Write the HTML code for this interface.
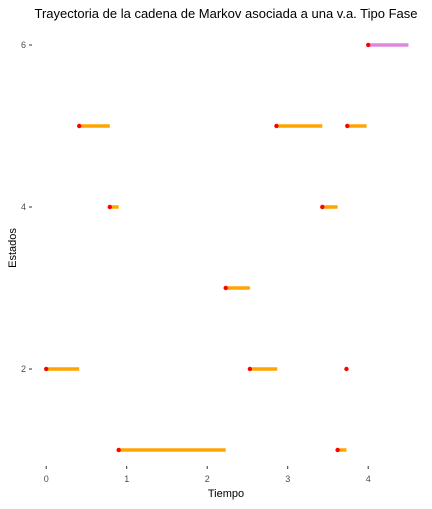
<!DOCTYPE html>
<html><head><meta charset="utf-8"><style>
body{margin:0;background:#fff;font-family:"Liberation Sans",sans-serif;}
</style></head><body>
<svg id="chart" width="432" height="504" xmlns="http://www.w3.org/2000/svg" font-family="Liberation Sans, sans-serif">
<text x="226" y="18" font-size="13" text-anchor="middle" fill="#000">Trayectoria de la cadena de Markov asociada a una v.a. Tipo Fase</text>
<text x="226" y="497" font-size="11" text-anchor="middle" fill="#000">Tiempo</text>
<text x="16" y="248" font-size="11" text-anchor="middle" fill="#000" transform="rotate(-90 16 248)">Estados</text>
<g id="axes"></g><g id="marks"></g>
</svg>
<script>
const starts=[0,0.41,0.79,0.9,2.23,2.53,2.86,3.43,3.62,3.73,3.74,4.0];
const ends=[0.41,0.79,0.9,2.23,2.53,2.87,3.43,3.62,3.73,3.74,3.98,4.5];
const states=[2,5,4,1,3,2,5,4,1,2,5,6];
const xTicks=[0,1,2,3,4];
const yTicks=[2,4,6];
const NS="http://www.w3.org/2000/svg";
function xs(v){return 46.2+v*80.5;}
function ys(v){return 450-(v-1)*81;}
const axes=document.getElementById('axes'),marks=document.getElementById('marks');
function mk(tag,attrs,parent){const e=document.createElementNS(NS,tag);for(const k in attrs)e.setAttribute(k,attrs[k]);parent.appendChild(e);return e;}
xTicks.forEach(t=>{
 const l=mk('line',{x1:xs(t),x2:xs(t),y1:466,y2:469,stroke:'#333','stroke-width':1},axes);
 
 
 const tx=mk('text',{x:xs(t),y:482,'font-size':9,'text-anchor':'middle',fill:'#4d4d4d'},axes);
 tx.textContent=t;
 
 
});
yTicks.forEach(t=>{
 const l=mk('line',{x1:29,x2:32,y1:ys(t),y2:ys(t),stroke:'#333','stroke-width':1},axes);
 
 
 const tx=mk('text',{x:26,y:ys(t)+3,'font-size':9,'text-anchor':'end',fill:'#4d4d4d'},axes);
 tx.textContent=t;
 
 
});
for(let i=0;i<starts.length;i++){
 const col=states[i]===6?'#dd88dd':'#ffa500';
 const s=mk('line',{x1:xs(starts[i]),x2:xs(ends[i]),y1:ys(states[i]),y2:ys(states[i]),stroke:col,'stroke-width':3.5},marks);
 
 
}
for(let i=0;i<starts.length;i++){
 const c=mk('circle',{cx:xs(starts[i]),cy:ys(states[i]),r:2.2,fill:'#ff0000'},marks);
 
 
}
</script>
</body></html>
